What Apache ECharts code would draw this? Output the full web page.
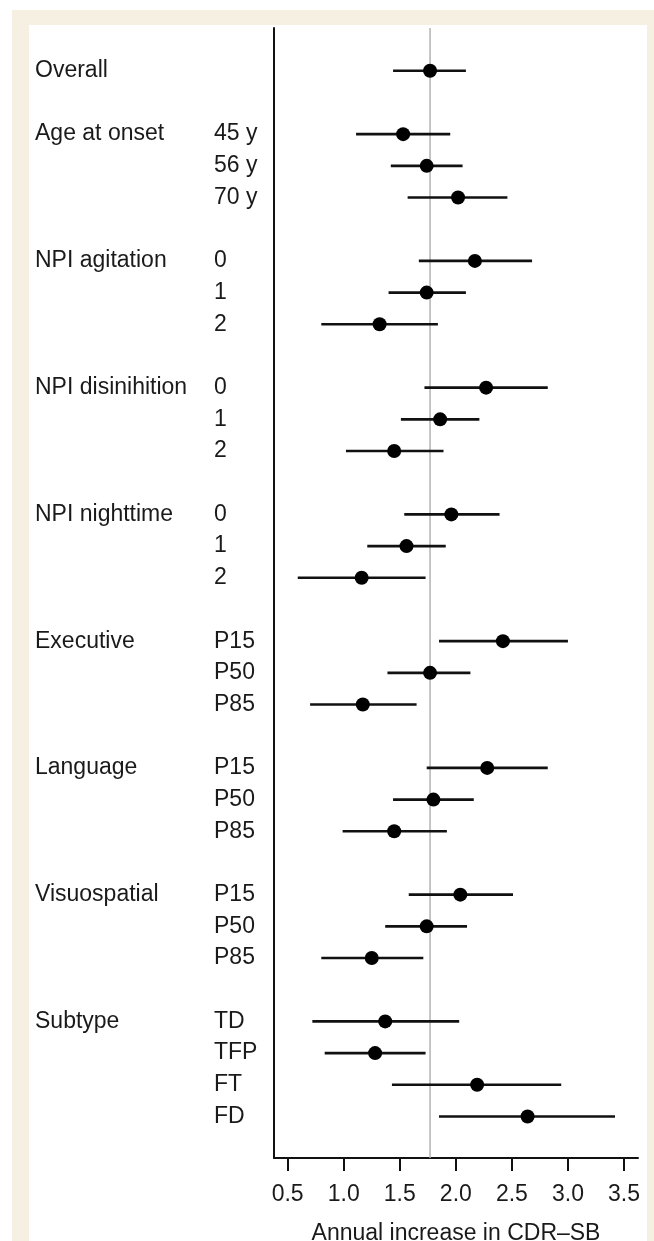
<!DOCTYPE html>
<html>
<head>
<meta charset="utf-8">
<script src="https://cdn.jsdelivr.net/npm/echarts@6/dist/echarts.min.js"></script>
<style>
html,body{margin:0;padding:0;background:#ffffff;}
#chart{width:654px;height:1241px;}
</style>
</head>
<body>
<div id="chart"></div>
<script>
// ---- data ----
const groups = ['Overall','Age at onset','NPI agitation','NPI disinihition','NPI nighttime','Executive','Language','Visuospatial','Subtype'];
const levels = [
  [''],
  ['45 y','56 y','70 y'],
  ['0','1','2'],
  ['0','1','2'],
  ['0','1','2'],
  ['P15','P50','P85'],
  ['P15','P50','P85'],
  ['P15','P50','P85'],
  ['TD','TFP','FT','FD']
];
const estimates = [
  [1.77],
  [1.53,1.74,2.02],
  [2.17,1.74,1.32],
  [2.27,1.86,1.45],
  [1.96,1.56,1.16],
  [2.42,1.77,1.17],
  [2.28,1.80,1.45],
  [2.04,1.74,1.25],
  [1.37,1.28,2.19,2.64]
];
const lowers = [
  [1.44],
  [1.11,1.42,1.57],
  [1.67,1.40,0.80],
  [1.72,1.51,1.02],
  [1.54,1.21,0.59],
  [1.85,1.39,0.70],
  [1.74,1.44,0.99],
  [1.58,1.37,0.80],
  [0.72,0.83,1.43,1.85]
];
const uppers = [
  [2.09],
  [1.95,2.06,2.46],
  [2.68,2.09,1.84],
  [2.82,2.21,1.89],
  [2.39,1.91,1.73],
  [3.00,2.13,1.65],
  [2.82,2.16,1.92],
  [2.51,2.10,1.71],
  [2.03,1.73,2.94,3.42]
];
const xTicks = [0.5,1.0,1.5,2.0,2.5,3.0,3.5];
const referenceValue = 1.77;
const xTitle = 'Annual increase in CDR\u2013SB';

// ---- build rows ----
const groupLabelByRow = {};
const levelLabelByRow = {};
const points = [];
const bars = [];
let row = 0;
groups.forEach((g, gi) => {
  groupLabelByRow[row] = g;
  levels[gi].forEach((lv, li) => {
    levelLabelByRow[row] = lv;
    points.push([estimates[gi][li], row]);
    bars.push([lowers[gi][li], uppers[gi][li], row]);
    row++;
  });
  row++; // blank spacer row
});
const groupRows = Object.keys(groupLabelByRow).map(Number);
const levelRows = Object.keys(levelLabelByRow).map(Number);

const yMin = -1.35, yMax = 34.31;
const FONT = 'Liberation Sans';
const TXT = '#1a1a1a';
const FS = 23;

const chart = echarts.init(document.getElementById('chart'), null, {renderer: 'canvas'});
chart.setOption({
  animation: false,
  backgroundColor: '#ffffff',
  graphic: [
    {type: 'rect', z: -100, shape: {x: 12, y: 10, width: 642, height: 1231}, style: {fill: '#f5f0e1'}},
    {type: 'rect', z: -99, shape: {x: 29, y: 25, width: 618, height: 1216}, style: {fill: '#ffffff'}}
  ],
  grid: {left: 274, right: 16, top: 28, bottom: 83, containLabel: false, outerBoundsMode: 'none'},
  xAxis: {
    type: 'value',
    min: 0.378, max: 3.625,
    splitLine: {show: false},
    axisLine: {show: true, onZero: false, lineStyle: {color: '#111', width: 2}},
    axisTick: {show: true, customValues: xTicks, length: 13, lineStyle: {color: '#111', width: 2}},
    axisLabel: {
      customValues: xTicks, margin: 25,
      formatter: v => Number(v).toFixed(1),
      fontFamily: FONT, fontSize: FS, color: TXT
    },
    name: xTitle, nameLocation: 'middle', nameGap: 64,
    nameTextStyle: {fontFamily: FONT, fontSize: FS, color: TXT}
  },
  yAxis: [
    {
      type: 'value', inverse: true, min: yMin, max: yMax,
      splitLine: {show: false},
      axisLine: {show: true, onZero: false, lineStyle: {color: '#111', width: 2}},
      axisTick: {show: false},
      axisLabel: {
        customValues: groupRows, margin: 239, align: 'left',
        formatter: v => groupLabelByRow[Math.round(v)] || '',
        fontFamily: FONT, fontSize: FS, color: TXT
      }
    },
    {
      type: 'value', inverse: true, min: yMin, max: yMax, position: 'left',
      splitLine: {show: false},
      axisLine: {show: false, onZero: false},
      axisTick: {show: false},
      axisLabel: {
        customValues: levelRows, margin: 60, align: 'left',
        formatter: v => levelLabelByRow[Math.round(v)] || '',
        fontFamily: FONT, fontSize: FS, color: TXT
      }
    }
  ],
  series: [
    {
      type: 'line', z: 1, symbol: 'none', silent: true,
      data: [[referenceValue, yMin], [referenceValue, yMax]],
      lineStyle: {color: '#b3b3b3', width: 1.5}
    },
    {
      type: 'custom', z: 2,
      data: bars,
      encode: {x: [0, 1], y: 2},
      renderItem: (params, api) => {
        const a = api.coord([api.value(0), api.value(2)]);
        const b = api.coord([api.value(1), api.value(2)]);
        return {type: 'line', shape: {x1: a[0], y1: a[1], x2: b[0], y2: b[1]},
                style: {stroke: '#111', lineWidth: 2.6}};
      }
    },
    {
      type: 'scatter', z: 3,
      data: points,
      symbol: 'circle', symbolSize: 14,
      itemStyle: {color: '#000', opacity: 1}
    }
  ]
});
</script>
</body>
</html>
